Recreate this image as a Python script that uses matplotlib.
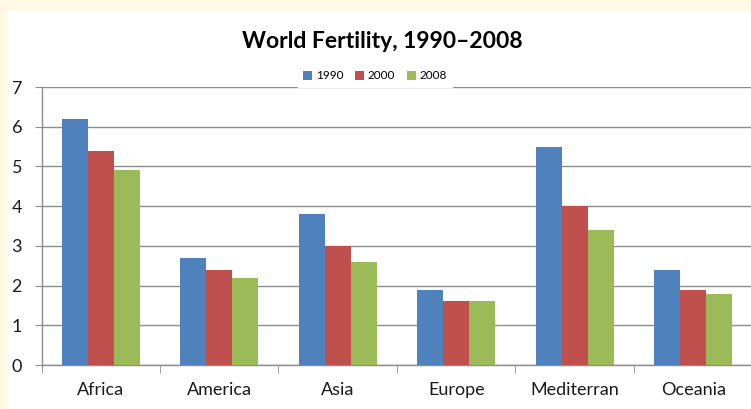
import matplotlib
matplotlib.use("Agg")
import matplotlib.pyplot as plt
import numpy as np
from matplotlib.patches import Rectangle

categories = ["Africa", "America", "Asia", "Europe", "Mediterran", "Oceania"]
series_names = ["1990", "2000", "2008"]
v1990 = [6.2, 2.7, 3.8, 1.9, 5.5, 2.4]
v2000 = [5.4, 2.4, 3.0, 1.6, 4.0, 1.9]
v2008 = [4.9, 2.2, 2.6, 1.6, 3.4, 1.8]
colors = ["#4F81BD", "#C0504D", "#9BBB59"]

plt.rcParams['font.family'] = ['Lato', 'DejaVu Sans']

fig = plt.figure(figsize=(7.51, 4.09), dpi=100, facecolor="#FFF8E2")
fig.patches.append(Rectangle((7/751, 0), 1, 1 - 11/409, transform=fig.transFigure,
                             facecolor="white", edgecolor="none", zorder=-10))

ax = fig.add_axes([41.5/751, 44/409, 711/751, 278/409])
ax.set_facecolor("none")

x = np.arange(len(categories))
w = 0.219
for i, (vals, name) in enumerate(zip([v1990, v2000, v2008], series_names)):
    ax.bar(x + (i - 1) * w, vals, width=w, color=colors[i], label=name, zorder=3)

ax.set_xlim(-0.5, len(categories) - 0.5)
ax.set_ylim(0, 7)
ax.set_yticks(range(0, 8))
ax.yaxis.grid(True, color="#8C8C8C", linewidth=1, zorder=0)
ax.set_axisbelow(True)

for s in ["top", "right"]:
    ax.spines[s].set_visible(False)
for s in ["left", "bottom"]:
    ax.spines[s].set_color("#8C8C8C")
    ax.spines[s].set_linewidth(1)

ax.set_xticks(x)
ax.set_xticklabels(categories, fontsize=13, color="#1a1a1a")
ax.tick_params(axis='x', which='major', length=0, pad=12)
ax.set_xticks(np.arange(-0.5, len(categories), 1), minor=True)
ax.tick_params(axis='x', which='minor', length=6, color="#8C8C8C", direction='out')
ax.tick_params(axis='y', length=5, color="#8C8C8C", labelsize=13, pad=9, labelcolor="#1a1a1a")

leg = ax.legend(loc='center', bbox_to_anchor=((375 - 41.5) / 711, 1.04), ncol=3,
                fontsize=8.5, frameon=True, fancybox=False, handlelength=0.75,
                handleheight=0.75, handletextpad=0.3, columnspacing=1.0,
                borderpad=0.5)
leg.get_frame().set_facecolor("white")
leg.get_frame().set_edgecolor("white")
leg.get_frame().set_alpha(1)
leg.set_zorder(5)

fig.text(382/751, 1 - 41/409, "World Fertility, 1990\u20132008", ha='center', va='center',
         fontsize=16.5, fontweight='bold', color="black")

fig.savefig("out.png", dpi=100, facecolor=fig.get_facecolor())
